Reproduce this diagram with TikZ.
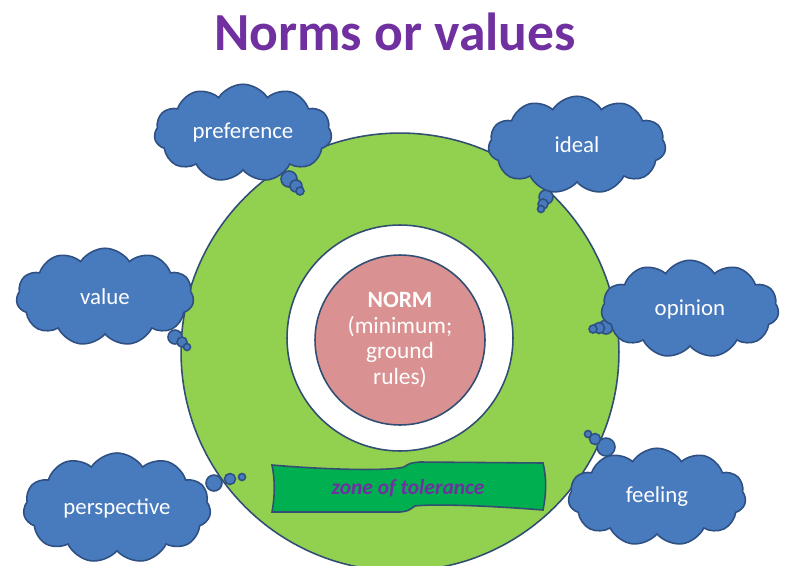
\documentclass[tikz,border=0pt]{standalone}
\usepackage{fontspec}
\setmainfont{Carlito}
\usetikzlibrary{shapes.symbols}
\definecolor{ringgreen}{RGB}{146,208,80}
\definecolor{normpink}{RGB}{217,145,145}
\definecolor{cloudblue}{RGB}{72,122,190}
\definecolor{cloudedge}{RGB}{47,80,130}
\definecolor{ringedge}{RGB}{50,78,115}
\definecolor{bannergreen}{RGB}{0,176,80}
\definecolor{titlepurple}{RGB}{112,48,160}

\begin{document}
\begin{tikzpicture}[x=0.02cm, y=-0.02cm,
    thought/.style={cloud, cloud puffs=11, cloud puff arc=115, cloud ignores aspect,
        draw=cloudedge, line width=0.9pt, fill=cloudblue, text=white,
        font=\fontsize{13}{15}\selectfont, minimum width=3.55cm, minimum height=1.95cm},
    bubble/.style={draw=cloudedge, line width=0.9pt, fill=cloudblue}]
    \useasboundingbox (0,0) rectangle (787,565);
    \clip (0,0) rectangle (787,565);

    % Title
    \node[titlepurple, font=\fontsize{30.5}{34}\selectfont\bfseries] (title) at (395,32) {Norms or values};

    % Rings: zone, white gap, norm
    \node[circle, draw=ringedge, line width=0.9pt, fill=ringgreen, minimum size=8.76cm] (zone) at (400,352) {};
    \node[circle, draw=ringedge, line width=0.9pt, fill=white, minimum size=4.52cm] (gap) at (400,338) {};
    \node[circle, draw=ringedge, line width=0.9pt, fill=normpink, minimum size=3.4cm, text=white,
          align=center, font=\fontsize{13.3}{14.6}\selectfont] (norm) at (400,340)
          {\textbf{NORM}\\(minimum;\\ground\\rules)};

    % Banner
    \draw[ringedge, line width=0.9pt, fill=bannergreen]
        (272,465) .. controls (330,470) and (390,471) .. (404,467)
        .. controls (410,463) .. (420,462) -- (543,463)
        .. controls (547,480) and (546,495) .. (543,510)
        .. controls (480,505) and (430,504) .. (415,506)
        .. controls (408,511) .. (400,512) -- (272,512)
        .. controls (275,495) and (275,480) .. (272,465) -- cycle;
    \node[titlepurple, font=\fontsize{12.2}{14}\selectfont\bfseries\itshape] (tolerance) at (408,488) {zone of tolerance};

    % Thought bubbles (x, y, radius in px)
    \foreach \bx/\by/\br in {289/179/8, 296/186/6, 300/191/4,
                             546/197/7, 543/204/5, 541/209/3.5,
                             175/337/7, 182/342/5, 187/347/3.5,
                             606/327/7, 599/328/5.5, 593/329/4,
                             214/483/8, 230/479/5.5, 242/477/3.5,
                             606/447/9, 595/439/5.5, 588/434/3.5}
        \draw[bubble] (\bx,\by) circle[radius=\br*0.02cm];

    % Thought clouds
    \node[thought] (pref) at (243,133) {preference};
    \node[thought] (ideal) at (577,145) {ideal};
    \node[thought] (value) at (105,297) {value};
    \node[thought] (opinion) at (690,309) {opinion};
    \node[thought, minimum width=3.75cm, minimum height=2.2cm] (persp) at (117,508) {perspective};
    \node[thought] (feeling) at (657,497) {feeling};
\end{tikzpicture}
\end{document}
